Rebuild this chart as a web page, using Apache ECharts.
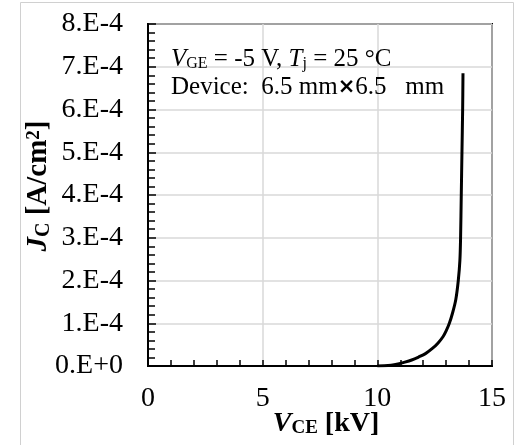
<!DOCTYPE html>
<html>
<head>
<meta charset="utf-8">
<script src="https://cdn.jsdelivr.net/npm/echarts@6/dist/echarts.min.js"></script>
<style>
html,body{margin:0;padding:0;background:#fff;}
#chart{width:520px;height:445px;}
</style>
</head>
<body>
<div id="chart"></div>
<script>
// V_CE [kV]
var vce = [10.0, 10.3, 10.6, 10.9, 11.2, 11.5, 11.8, 12.1, 12.4, 12.65, 12.87, 13.0, 13.14, 13.28, 13.42, 13.53, 13.6, 13.63, 13.66, 13.69, 13.72, 13.735];
// J_C [A/cm^2]
var jc = [0, 0.005e-4, 0.02e-4, 0.05e-4, 0.09e-4, 0.14e-4, 0.21e-4, 0.29e-4, 0.41e-4, 0.54e-4, 0.69e-4, 0.82e-4, 1.0e-4, 1.24e-4, 1.55e-4, 2.0e-4, 2.47e-4, 3.0e-4, 4.0e-4, 5.0e-4, 6.0e-4, 6.85e-4];
var yTickLabels = ['0.E+0','1.E-4','2.E-4','3.E-4','4.E-4','5.E-4','6.E-4','7.E-4','8.E-4'];
var xTickLabels = ['0','5','10','15'];

var FONT = "'Liberation Serif','Times New Roman',serif";
var chart = echarts.init(document.getElementById('chart'), null, {renderer:'canvas'});
var data = vce.map(function(v,i){return [v, jc[i]];});

chart.setOption({
  animation:false,
  backgroundColor:'#fff',
  grid:{left:148, top:24, width:344, height:342, show:true, borderColor:'#000', borderWidth:2, backgroundColor:'transparent'},
  xAxis:{
    type:'value', min:0, max:15, interval:5,
    axisLine:{show:true, lineStyle:{color:'#000', width:2}},
    axisTick:{show:true, inside:true, length:6, lineStyle:{color:'#000', width:1.5}},
    minorTick:{show:true, splitNumber:5, length:6, lineStyle:{color:'#000', width:1.5}},
    splitLine:{show:true, lineStyle:{color:'#d9d9d9', width:1.5}},
    axisLabel:{color:'#000', fontFamily:FONT, fontSize:28, margin:19,
      formatter:function(v){return xTickLabels[Math.round(v/5)];}}
  },
  yAxis:{
    type:'value', min:0, max:8e-4, interval:1e-4,
    axisLine:{show:true, lineStyle:{color:'#000', width:2}},
    axisTick:{show:true, inside:true, length:8, lineStyle:{color:'#000', width:1.5}},
    minorTick:{show:true, splitNumber:5, length:7, lineStyle:{color:'#000', width:1.5}},
    splitLine:{show:true, lineStyle:{color:'#d9d9d9', width:1.5}},
    axisLabel:{color:'#000', fontFamily:FONT, fontSize:28, margin:25,
      formatter:function(v){return yTickLabels[Math.round(v*1e4)];}}
  },
  series:[{
    type:'line', data:data, smooth:0.3, showSymbol:false,
    lineStyle:{color:'#000', width:3}, z:5
  }],
  graphic:[
    {type:'rect', shape:{x:20.5, y:2.5, width:493, height:470}, style:{fill:'none', stroke:'#d0d0d0', lineWidth:1}, z:-1, silent:true},
    {type:'text', x:171, y:47, style:{
      text:'{vi|V}{sub|GE}{n| = -5 V, }{vi|T}{sub|j}{n| = 25 °C}',
      fontFamily:FONT, fill:'#000',
      rich:{
        vi:{fontFamily:FONT, fontStyle:'italic', fontSize:25, lineHeight:25, verticalAlign:'middle'},
        n:{fontFamily:FONT, fontSize:25, lineHeight:25, verticalAlign:'middle'},
        sub:{fontFamily:FONT, fontSize:16, lineHeight:9, verticalAlign:'bottom'}
      }}, z:10},
    {type:'text', x:171, y:75, style:{
      text:'{n|Device:  6.5 mm}{x|×}{n|6.5   mm}',
      fontFamily:FONT, fill:'#000',
      rich:{
        n:{fontFamily:FONT, fontSize:25, lineHeight:25, verticalAlign:'middle'},
        x:{fontFamily:"'DejaVu Sans',sans-serif", fontWeight:'bold', fontSize:21, lineHeight:25, verticalAlign:'middle'}
      }}, z:10},
    {type:'text', x:326, y:424, style:{
      text:'{vi|V}{sub|CE}{n| [kV]}',
      fontFamily:FONT, fill:'#000', align:'center', verticalAlign:'middle',
      rich:{
        vi:{fontFamily:FONT, fontStyle:'italic', fontWeight:'bold', fontSize:28, lineHeight:28, verticalAlign:'middle'},
        n:{fontFamily:FONT, fontWeight:'bold', fontSize:28, lineHeight:28, verticalAlign:'middle'},
        sub:{fontFamily:FONT, fontWeight:'bold', fontSize:19, lineHeight:10, verticalAlign:'bottom'}
      }}, z:10},
    {type:'text', x:39, y:186, rotation:Math.PI/2, style:{
      text:'{vi|J}{sub|C}{n| [A/cm}{sup|2}{n|]}',
      fontFamily:FONT, fill:'#000', align:'center', verticalAlign:'middle',
      rich:{
        vi:{fontFamily:FONT, fontStyle:'italic', fontWeight:'bold', fontSize:29, lineHeight:29, verticalAlign:'middle'},
        n:{fontFamily:FONT, fontWeight:'bold', fontSize:29, lineHeight:29, verticalAlign:'middle'},
        sub:{fontFamily:FONT, fontWeight:'bold', fontSize:20, lineHeight:10, verticalAlign:'bottom'},
        sup:{fontFamily:FONT, fontWeight:'bold', fontSize:19, lineHeight:15, verticalAlign:'top'}
      }}, z:10}
  ]
});
</script>
</body>
</html>
